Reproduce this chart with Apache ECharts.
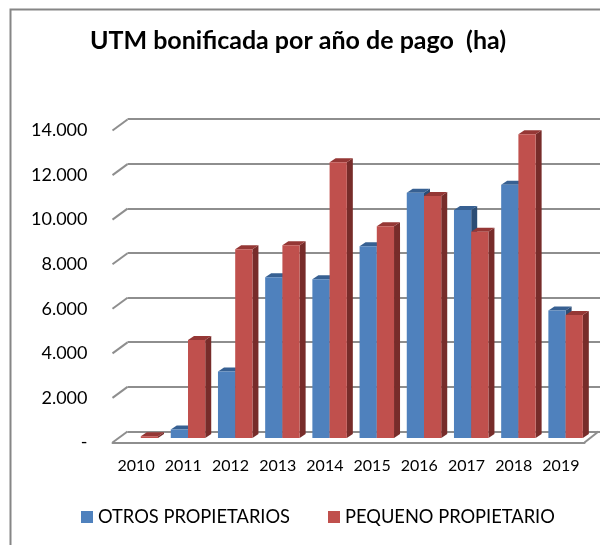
<!DOCTYPE html>
<html>
<head>
<meta charset="utf-8">
<style>
  html, body { margin: 0; padding: 0; background: #fff; }
  #chart { width: 600px; height: 545px; }
</style>
<script src="https://cdn.jsdelivr.net/npm/echarts@6/dist/echarts.min.js"></script>
</head>
<body>
<div id="chart"></div>
<script>
var years = ['2010', '2011', '2012', '2013', '2014', '2015', '2016', '2017', '2018', '2019']
var otros = [0, 380, 2980, 7200, 7110, 8590, 10990, 10210, 11350, 5710]
var pequeno = [80, 4390, 8460, 8640, 12350, 9490, 10840, 9240, 13610, 5510]
var tickValues = [0, 2000, 4000, 6000, 8000, 10000, 12000, 14000]

var DEPTH_X = 15
var DEPTH_Y = 11
var BAR_DX = 6
var BAR_DY = 4

var fontName = 'Lato, Carlito, sans-serif'
var gridColor = '#8e8e8e'

function formatTick(v) {
  if (v === 0) return '-'
  return String(v).replace(/\B(?=(\d{3})+$)/g, '.')
}

// one box: front face, top and right side
function barRender(offset, colors) {
  return function(params, api) {
    var val = api.value(1)
    if (!val) return
    var base = api.coord([api.value(0), 0])
    var top = api.coord([api.value(0), val])
    var w = api.size([1, 0])[0] * 0.365
    var x = base[0] + offset * w
    var y = top[1]
    var b = base[1]
    return {
      type: 'group',
      children: [
        {
          type: 'polygon',
          shape: { points: [[x + w, y], [x + w + BAR_DX, y - BAR_DY], [x + w + BAR_DX, b - BAR_DY], [x + w, b]] },
          style: { fill: colors.side }
        },
        {
          type: 'polygon',
          shape: { points: [[x, y], [x + BAR_DX, y - BAR_DY], [x + w + BAR_DX, y - BAR_DY], [x + w, y]] },
          style: { fill: colors.top }
        },
        {
          type: 'rect',
          shape: { x: x, y: y, width: w, height: b - y },
          style: { fill: colors.front }
        }
      ]
    }
  }
}

// diagonals from the labelled front edge up to the back wall
function wallRender(params, api) {
  var p = api.coord([0, api.value(0)])
  var sys = params.coordSys
  var children = [{
    type: 'line',
    shape: { x1: sys.x, y1: p[1], x2: sys.x + DEPTH_X, y2: p[1] - DEPTH_Y },
    style: { stroke: gridColor, lineWidth: 2 }
  }]
  if (api.value(0) === 0) {
    children.push({
      type: 'line',
      shape: { x1: sys.x + sys.width, y1: p[1], x2: sys.x + sys.width + DEPTH_X - 1, y2: p[1] - DEPTH_Y },
      style: { stroke: gridColor, lineWidth: 2 }
    })
  }
  return { type: 'group', children: children }
}

var myChart = echarts.init(document.getElementById('chart'))
var option = {
  backgroundColor: '#fff',
  animation: false,
  title: {
    text: 'UTM bonificada por año de pago  (ha)',
    left: 293,
    top: 23,
    textAlign: 'center',
    textStyle: { fontFamily: fontName, fontSize: 25, fontWeight: 'bold', color: '#000' }
  },
  legend: {
    left: 76,
    top: 503,
    itemWidth: 12,
    itemHeight: 12,
    itemGap: 38,
    icon: 'rect',
    textStyle: { fontFamily: fontName, fontSize: 18.3, color: '#000' },
    data: ['OTROS PROPIETARIOS', 'PEQUENO PROPIETARIO']
  },
  graphic: [{
    type: 'polyline',
    shape: { points: [[10.5, 545], [10.5, 9.5], [600, 9.5]] },
    style: { stroke: '#868686', lineWidth: 2, fill: null }
  }],
  grid: [
    { left: 127.5, width: 472.5, top: 119, height: 312.5 },
    { left: 112.5, width: 472, top: 130.5, height: 312 },
    { left: 117.2, width: 472, top: 125.5, height: 312.5 }
  ],
  xAxis: [
    { gridIndex: 0, type: 'category', data: years, show: false },
    {
      gridIndex: 1,
      type: 'category',
      data: years,
      axisTick: { show: false },
      axisLine: { lineStyle: { color: gridColor, width: 2 } },
      axisLabel: { interval: 0, margin: 15, fontFamily: fontName, fontSize: 16, color: '#000' }
    },
    { gridIndex: 2, type: 'category', data: years, show: false }
  ],
  yAxis: [
    {
      gridIndex: 0,
      type: 'value',
      min: 0,
      max: 14000,
      interval: 2000,
      axisLabel: { show: false },
      axisLine: { show: false },
      axisTick: { show: false },
      splitLine: { lineStyle: { color: gridColor, width: 2 } }
    },
    {
      gridIndex: 1,
      type: 'value',
      min: 0,
      max: 14000,
      interval: 2000,
      axisLine: { show: false },
      axisTick: { show: false },
      splitLine: { show: false },
      axisLabel: {
        margin: 25,
        padding: [5, 0, 0, 0],
        fontFamily: fontName,
        fontSize: 18,
        color: '#000',
        formatter: formatTick
      }
    },
    { gridIndex: 2, type: 'value', min: 0, max: 14000, interval: 2000, show: false }
  ],
  series: [
    {
      name: 'wall',
      type: 'custom',
      xAxisIndex: 1,
      yAxisIndex: 1,
      clip: false,
      silent: true,
      encode: { y: 0 },
      renderItem: wallRender,
      data: tickValues
    },
    {
      name: 'OTROS PROPIETARIOS',
      type: 'custom',
      xAxisIndex: 2,
      yAxisIndex: 2,
      clip: false,
      itemStyle: { color: '#4F81BD' },
      encode: { x: 0, y: 1 },
      renderItem: barRender(-1, { front: '#4F81BD', top: '#376092', side: '#2C4D75' }),
      data: years.map(function(y, i) { return [i, otros[i]] })
    },
    {
      name: 'PEQUENO PROPIETARIO',
      type: 'custom',
      xAxisIndex: 2,
      yAxisIndex: 2,
      clip: false,
      itemStyle: { color: '#C0504D' },
      encode: { x: 0, y: 1 },
      renderItem: barRender(0, { front: '#C0504D', top: '#953735', side: '#772C2A' }),
      data: years.map(function(y, i) { return [i, pequeno[i]] })
    }
  ]
}
myChart.setOption(option)
</script>
</body>
</html>
